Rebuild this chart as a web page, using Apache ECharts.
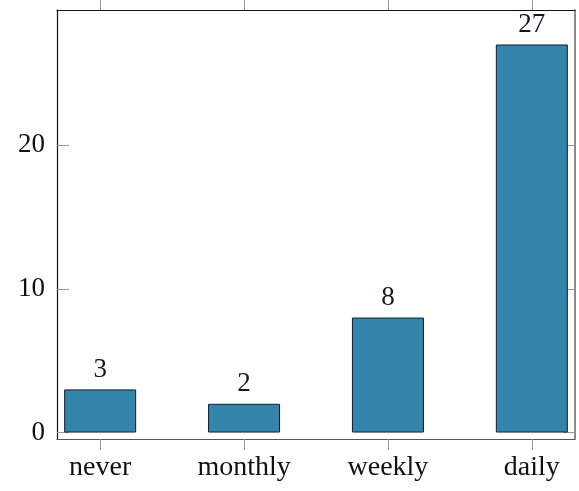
<!DOCTYPE html>
<html>
<head>
<meta charset="utf-8">
<script src="https://cdn.jsdelivr.net/npm/echarts@6/dist/echarts.min.js"></script>
<style>
  html, body { margin: 0; padding: 0; background: #fff; }
  #chart { width: 579px; height: 491px; }
</style>
</head>
<body>
<div id="chart"></div>
<script>
// 频率分类及数量
const categories = ['never', 'monthly', 'weekly', 'daily'];
const counts = [3, 2, 8, 27];
const yTicks = [0, 10, 20];
const xTicks = [0, 1, 2, 3];

const chart = echarts.init(document.getElementById('chart'));

const serif = 'Liberation Serif';

const option = {
  animation: false,
  grid: {
    left: 57,
    right: 4,
    top: 10,
    bottom: 52,
  },
  xAxis: [
    {
      type: 'value',
      position: 'bottom',
      min: -0.3,
      max: 3.3,
      axisLine: { show: true, onZero: false, lineStyle: { color: '#555', width: 1.2 } },
      axisTick: {
        show: true,
        inside: false,
        length: 11,
        customValues: xTicks,
        lineStyle: { color: '#999' },
      },
      axisLabel: {
        customValues: xTicks,
        margin: 15,
        fontFamily: serif,
        fontSize: 28,
        color: '#111',
        formatter: (v) => categories[Math.round(v)] || '',
      },
      splitLine: { show: false },
    },
    {
      type: 'value',
      position: 'top',
      min: -0.3,
      max: 3.3,
      axisLine: { show: true, onZero: false, lineStyle: { color: '#111', width: 1.2 } },
      axisTick: {
        show: true,
        inside: false,
        length: 10,
        customValues: xTicks,
        lineStyle: { color: '#999' },
      },
      axisLabel: { show: false },
      splitLine: { show: false },
    },
  ],
  yAxis: [
    {
      type: 'value',
      position: 'left',
      min: -0.45,
      max: 29.4,
      axisLine: { show: true, onZero: false, lineStyle: { color: '#111', width: 1.2 } },
      axisTick: {
        show: true,
        inside: true,
        length: 12,
        customValues: yTicks,
        lineStyle: { color: '#999' },
      },
      axisLabel: {
        customValues: yTicks,
        margin: 12,
        fontFamily: serif,
        fontSize: 27,
        color: '#111',
      },
      splitLine: { show: false },
    },
    {
      type: 'value',
      position: 'right',
      min: -0.45,
      max: 29.4,
      axisLine: { show: true, onZero: false, lineStyle: { color: '#666', width: 1.5 } },
      axisTick: {
        show: true,
        inside: true,
        length: 12,
        customValues: yTicks,
        lineStyle: { color: '#999' },
      },
      axisLabel: { show: false },
      splitLine: { show: false },
    },
  ],
  series: [
    {
      type: 'bar',
      xAxisIndex: 0,
      yAxisIndex: 0,
      barWidth: 72,
      data: counts.map((c, i) => [i, c]),
      itemStyle: {
        color: '#3485ab',
        borderColor: '#0e1f2e',
        borderWidth: 1,
      },
      label: {
        show: true,
        position: 'top',
        distance: 6,
        fontFamily: serif,
        fontSize: 27,
        color: '#0e1a26',
        formatter: (p) => p.value[1],
      },
    },
  ],
};

chart.setOption(option);
</script>
</body>
</html>
